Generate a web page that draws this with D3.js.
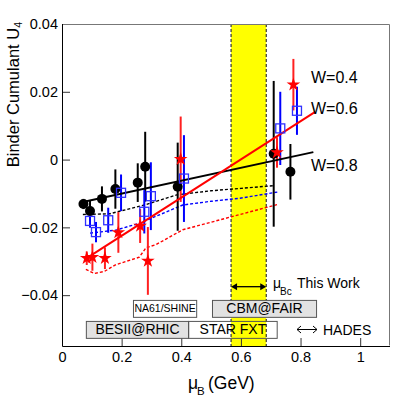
<!DOCTYPE html>
<html lang="en">
<head>
<meta charset="UTF-8">
<title>Binder cumulant U4</title>
<style>
  body { margin: 0; background: #fff; }
  text { font-family: "Liberation Sans", Arial, sans-serif; }
</style>
</head>
<body>
<svg width="415" height="396"></svg>

<script src="https://cdn.jsdelivr.net/npm/d3@7"></script>
<script>
// data
var w08X = [0.072, 0.094, 0.134, 0.179, 0.254, 0.279, 0.388, 0.710, 0.766];
var w08Y = [-0.0131, -0.0152, -0.0116, -0.0087, -0.0068, -0.0021, -0.0080, 0.0017, -0.0036];
var w08E = [0.0015, 0.0030, 0.0037, 0.0058, 0.0057, 0.0103, 0.0130, 0.0215, 0.0082];

var w06X = [0.094, 0.114, 0.155, 0.198, 0.276, 0.298, 0.409, 0.732, 0.788];
var w06Y = [-0.0181, -0.0214, -0.0179, -0.0098, -0.0154, -0.0108, -0.0056, 0.0092, 0.0144];
var w06E = [0.0020, 0.0030, 0.0037, 0.0054, 0.0064, 0.0100, 0.0128, 0.0108, 0.0071];

var w04X = [0.083, 0.102, 0.144, 0.189, 0.262, 0.288, 0.398, 0.721, 0.776];
var w04Y = [-0.0291, -0.0288, -0.0291, -0.0215, -0.0196, -0.0299, 0.0001, 0.0021, 0.0221];
var w04E = [0.0020, 0.0040, 0.0032, 0.0060, 0.0050, 0.0100, 0.0126, 0.0045, 0.0076];

// solid fit lines (W=0.8 black, W=0.4 red)
var fit08X = [0.070, 0.843], fit08Y = [-0.0125, 0.0022];
var fit04X = [0.083, 0.849], fit04Y = [-0.0291, 0.0141];

// dashed model curves
var dash08X = [0.070, 0.160, 0.200, 0.280, 0.385, 0.500, 0.600, 0.709];
var dash08Y = [-0.0162, -0.0160, -0.0151, -0.0133, -0.0104, -0.0092, -0.0085, -0.0077];
var dash06X = [0.094, 0.181, 0.259, 0.405, 0.500, 0.597, 0.728];
var dash06Y = [-0.0217, -0.0208, -0.0188, -0.0134, -0.0123, -0.0114, -0.0095];
var dash04X = [0.080, 0.108, 0.142, 0.181, 0.259, 0.282, 0.315, 0.405, 0.597, 0.721];
var dash04Y = [-0.0324, -0.0336, -0.0330, -0.0310, -0.0288, -0.0260, -0.0251, -0.0207, -0.0162, -0.0133];

var bandLo = 0.567, bandHi = 0.685;   // mu_Bc this work

var boxLabels = ["NA61/SHINE", "CBM@FAIR", "BESII@RHIC", "STAR FXT"];
var boxLo = [0.238, 0.503, 0.080, 0.423];
var boxHi = [0.450, 0.852, 0.423, 0.720];

var xTicks = [0, 0.2, 0.4, 0.6, 0.8, 1];
var xTickLabels = ["0", "0.2", "0.4", "0.6", "0.8", "1"];
var yTicks = [-0.04, -0.02, 0, 0.02, 0.04];
var yTickLabels = ["\u22120.04", "\u22120.02", "0", "0.02", "0.04"];

var svg = d3.select("svg");
var x = d3.scaleLinear().domain([0, 1.1]).range([62, 390]);
var y = d3.scaleLinear().domain([-0.055, 0.04]).range([346, 24]);

// yellow band with dashed edges
svg.append("rect")
  .attr("x", x(bandLo)).attr("y", y(0.04))
  .attr("width", x(bandHi) - x(bandLo)).attr("height", y(-0.055) - y(0.04))
  .attr("fill", "#ffff00");
[bandLo, bandHi].forEach(function(v){
  svg.append("line")
    .attr("x1", x(v)).attr("x2", x(v)).attr("y1", y(0.04)).attr("y2", y(-0.055))
    .attr("stroke", "#333").attr("stroke-width", 1.2).attr("stroke-dasharray", "3,2");
});

// axes
var gx = svg.append("g").attr("transform", "translate(0,346)");
gx.call(d3.axisBottom(x).tickValues(d3.range(0.1, 1.1, 0.2)).tickSize(-4).tickFormat(""));
gx.call(d3.axisBottom(x).tickValues(xTicks).tickSize(-8).tickPadding(6)
  .tickFormat(function(d, i){ return xTickLabels[i]; }));
gx.selectAll(".domain").remove();

var gy = svg.append("g").attr("transform", "translate(62,0)");
gy.call(d3.axisLeft(y).tickValues([-0.05, -0.03, -0.01, 0.01, 0.03]).tickSize(-4).tickFormat(""));
gy.call(d3.axisLeft(y).tickValues(yTicks).tickSize(-8).tickPadding(4)
  .tickFormat(function(d, i){ return yTickLabels[i]; }));
gy.selectAll(".domain").remove();
svg.selectAll(".tick line").attr("stroke", "#333");
svg.selectAll(".tick text").attr("font-family", "Liberation Sans, Arial, sans-serif")
  .attr("font-size", 14.5).attr("fill", "#000");

// frame
svg.append("path").attr("d", "M62.5,24.5H389.5V345.5").attr("fill", "none").attr("stroke", "#777");
svg.append("path").attr("d", "M62.5,24V346.5H390").attr("fill", "none").attr("stroke", "#000");

// dashed model curves
var line = d3.line().x(function(d){ return x(d[0]); }).y(function(d){ return y(d[1]); });
[[dash08X, dash08Y, "#000"], [dash06X, dash06Y, "#0000ff"], [dash04X, dash04Y, "#ff0000"]].forEach(function(s){
  svg.append("path").datum(d3.zip(s[0], s[1])).attr("d", line)
    .attr("fill", "none").attr("stroke", s[2]).attr("stroke-width", 1.4).attr("stroke-dasharray", "3,2");
});

// error bars
function bars(xs, ys, es, col){
  svg.append("g").selectAll("line").data(xs).enter().append("line")
    .attr("x1", function(d){ return x(d); }).attr("x2", function(d){ return x(d); })
    .attr("y1", function(d, i){ return y(ys[i] + es[i]); })
    .attr("y2", function(d, i){ return y(ys[i] - es[i]); })
    .attr("stroke", col).attr("stroke-width", 2);
}
bars(w08X, w08Y, w08E, "#000");
bars(w06X, w06Y, w06E, "#0000ff");
bars(w04X, w04Y, w04E, "#ff2020");

// fit lines
svg.append("path").datum(d3.zip(fit08X, fit08Y)).attr("d", line)
  .attr("fill", "none").attr("stroke", "#000").attr("stroke-width", 2);
svg.append("path").datum(d3.zip(fit04X, fit04Y)).attr("d", line)
  .attr("fill", "none").attr("stroke", "#ff0000").attr("stroke-width", 2);

// markers
svg.append("g").selectAll("circle").data(w08X).enter().append("circle")
  .attr("cx", function(d){ return x(d); }).attr("cy", function(d, i){ return y(w08Y[i]); })
  .attr("r", 5).attr("fill", "#000");
svg.append("g").selectAll("rect").data(w06X).enter().append("rect")
  .attr("x", function(d){ return x(d) - 4.5; }).attr("y", function(d, i){ return y(w06Y[i]) - 4.5; })
  .attr("width", 9).attr("height", 9).attr("fill", "none").attr("stroke", "#3030ff").attr("stroke-width", 1.3);
var star = d3.symbol().type(d3.symbolStar).size(58);
svg.append("g").selectAll("path").data(w04X).enter().append("path")
  .attr("d", star)
  .attr("transform", function(d, i){ return "translate(" + x(d) + "," + y(w04Y[i]) + ")"; })
  .attr("fill", "#ff0000");

// W labels
[["W=0.4", 0.0225], ["W=0.6", 0.0133], ["W=0.8", -0.0033]].forEach(function(t){
  svg.append("text").attr("x", 311).attr("y", y(t[1])).attr("font-size", 16).text(t[0]);
});

// experiment boxes
var rowTop = [-0.0414, -0.0476], rowBot = [-0.0464, -0.0526];
var boxRow = [0, 0, 1, 1];
var boxFill = ["#fff", "#e2e2e2", "#e2e2e2", "none"];
var boxFont = [10.5, 14, 14, 14];
boxLabels.forEach(function(lab, i){
  var r = boxRow[i];
  svg.append("rect")
    .attr("x", x(boxLo[i]) + 0.5).attr("y", y(rowTop[r]) + 0.5)
    .attr("width", x(boxHi[i]) - x(boxLo[i])).attr("height", y(rowBot[r]) - y(rowTop[r]))
    .attr("fill", boxFill[i]).attr("stroke", "#555");
  svg.append("text")
    .attr("x", (x(boxLo[i]) + x(boxHi[i])) / 2 + 0.5)
    .attr("y", (y(rowTop[r]) + y(rowBot[r])) / 2 + boxFont[i] * 0.36)
    .attr("text-anchor", "middle").attr("font-size", boxFont[i]).text(lab);
});

// arrow across the band
var ay = y(-0.0375);
svg.append("line").attr("x1", x(bandLo) + 2).attr("x2", x(bandHi) - 2)
  .attr("y1", ay).attr("y2", ay).attr("stroke", "#000").attr("stroke-width", 1.3);
svg.append("path").attr("d", "M" + x(bandLo) + "," + ay + "l6,-3.5v7z").attr("fill", "#000");
svg.append("path").attr("d", "M" + x(bandHi) + "," + ay + "l-6,-3.5v7z").attr("fill", "#000");
var mt = svg.append("text").attr("x", 273).attr("y", ay + 1).attr("font-size", 14);
mt.append("tspan").text("\u03bc");
mt.append("tspan").attr("x", 280).attr("dy", 7).attr("font-size", 10).text("Bc");
mt.append("tspan").attr("x", 297).attr("dy", -7).text("This Work");

// HADES
var hy = 329.5;
svg.append("path")
  .attr("d", "M297," + hy + "H317M301," + (hy - 3.5) + "L297," + hy + "L301," + (hy + 3.5) +
    "M313," + (hy - 3.5) + "L317," + hy + "L313," + (hy + 3.5))
  .attr("fill", "none").attr("stroke", "#000").attr("stroke-width", 1);
svg.append("text").attr("x", 323).attr("y", 334.5).attr("font-size", 14).text("HADES");

// axis titles
var yt = svg.append("text").attr("transform", "translate(18.5,22) rotate(-90)")
  .attr("text-anchor", "end").attr("font-size", 16.5);
yt.append("tspan").text("Binder Cumulant U");
yt.append("tspan").attr("dy", 3).attr("font-size", 10.5).text("4");

var xt = svg.append("text").attr("x", 188).attr("y", 389).attr("font-size", 17.5);
xt.append("tspan").text("\u03bc");
xt.append("tspan").attr("x", 197).attr("dy", 6).attr("font-size", 11.5).text("B");
xt.append("tspan").attr("x", 208).attr("dy", -6).text("(GeV)");
</script>
</body>
</html>
